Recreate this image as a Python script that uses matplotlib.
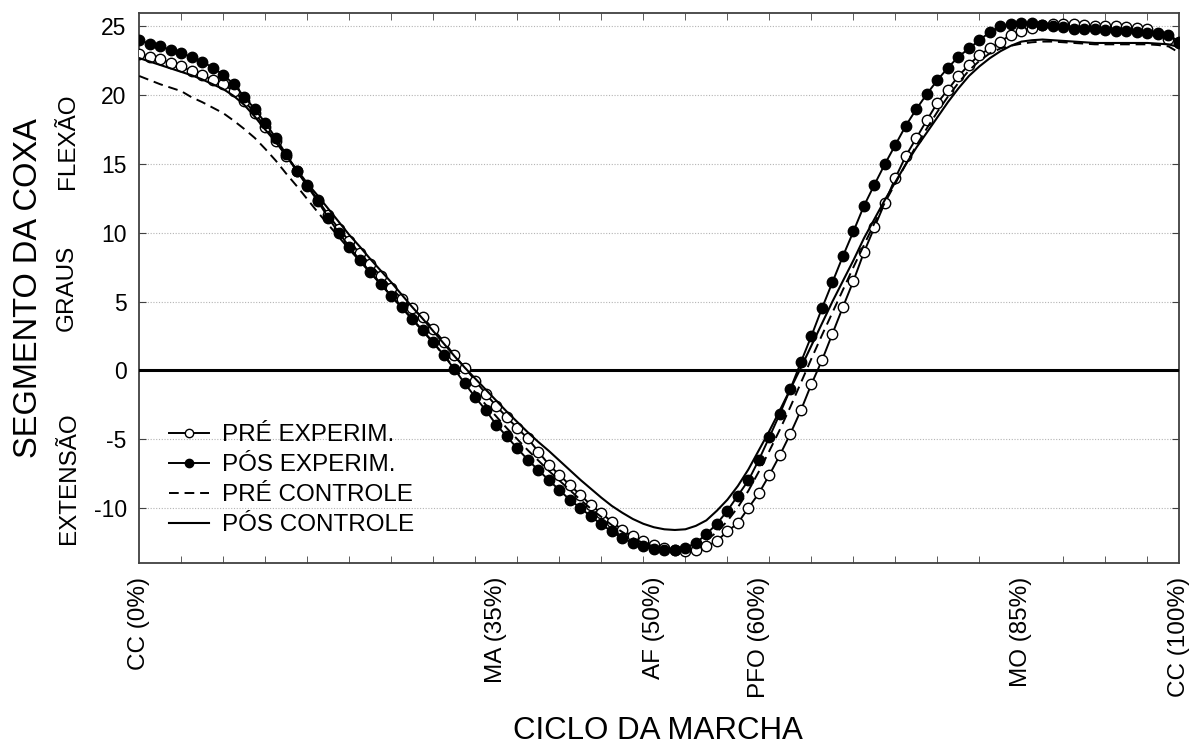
import numpy as np
import matplotlib
matplotlib.use('Agg')
import matplotlib.pyplot as plt
from matplotlib.ticker import FixedLocator

# ângulo do segmento da coxa (graus) ao longo do ciclo da marcha, 100 pontos
pre_exp = [23.0, 22.8, 22.6, 22.35, 22.1, 21.75, 21.5, 21.1, 20.8, 20.3,
           19.6, 18.7, 17.7, 16.7, 15.6, 14.5, 13.5, 12.4, 11.3, 10.3,
           9.4, 8.5, 7.7, 6.85, 6.0, 5.2, 4.5, 3.85, 3.0, 2.1,
           1.1, 0.2, -0.75, -1.7, -2.6, -3.4, -4.2, -4.95, -5.9, -6.85,
           -7.6, -8.33, -9.05, -9.78, -10.38, -11.0, -11.6, -12.07, -12.4, -12.72,
           -12.92, -13.04, -13.15, -13.04, -12.8, -12.4, -11.7, -11.1, -10.0, -8.93,
           -7.6, -6.16, -4.6, -2.9, -1.0, 0.72, 2.66, 4.6, 6.5, 8.58,
           10.4, 12.2, 14.0, 15.6, 16.9, 18.2, 19.45, 20.4, 21.4, 22.2,
           22.95, 23.4, 23.9, 24.4, 24.7, 24.9, 25.1, 25.2, 25.2, 25.15,
           25.1, 25.05, 25.0, 25.0, 24.95, 24.9, 24.8, 24.5, 24.1, 23.8]

pos_exp = [24.0, 23.75, 23.55, 23.3, 23.1, 22.75, 22.45, 22.0, 21.5, 20.8,
           19.9, 19.0, 18.0, 16.9, 15.7, 14.5, 13.4, 12.3, 11.1, 10.0,
           9.0, 8.0, 7.15, 6.3, 5.4, 4.6, 3.75, 2.9, 2.05, 1.1,
           0.1, -0.95, -1.95, -2.9, -3.95, -4.8, -5.67, -6.5, -7.25, -7.97,
           -8.7, -9.4, -10.0, -10.6, -11.2, -11.7, -12.2, -12.55, -12.8, -12.97,
           -13.04, -13.04, -12.9, -12.56, -11.9, -11.15, -10.2, -9.1, -8.0, -6.5,
           -4.85, -3.15, -1.35, 0.6, 2.5, 4.5, 6.4, 8.3, 10.1, 11.95,
           13.5, 15.0, 16.4, 17.8, 19.0, 20.1, 21.1, 22.0, 22.8, 23.4,
           24.0, 24.6, 25.0, 25.2, 25.25, 25.25, 25.1, 25.05, 24.95, 24.85,
           24.8, 24.8, 24.75, 24.7, 24.65, 24.6, 24.55, 24.45, 24.4, 23.9]

pre_ctrl = [21.4, 21.1, 20.8, 20.55, 20.3, 19.85, 19.5, 19.1, 18.7, 18.15,
            17.55, 16.9, 16.1, 15.25, 14.3, 13.4, 12.45, 11.5, 10.6, 9.7,
            8.8, 7.95, 7.1, 6.25, 5.4, 4.55, 3.7, 2.85, 2.0, 1.1,
            0.2, -0.7, -1.6, -2.5, -3.35, -4.2, -5.0, -5.8, -6.55, -7.3,
            -8.0, -8.7, -9.4, -10.05, -10.65, -11.25, -11.75, -12.2, -12.55, -12.8,
            -12.95, -13.0, -12.95, -12.75, -12.35, -11.75, -10.95, -9.95, -8.75, -7.35,
            -5.85, -4.3, -2.65, -0.9, 0.85, 2.55, 4.2, 5.85, 7.5, 9.1,
            10.7, 12.2, 13.6, 15.0, 16.35, 17.6, 18.8, 19.9, 20.9, 21.8,
            22.5, 23.05, 23.4, 23.6, 23.75, 23.85, 23.9, 23.9, 23.85, 23.8,
            23.75, 23.7, 23.7, 23.7, 23.7, 23.7, 23.7, 23.65, 23.55, 23.1]

pos_ctrl = [22.7, 22.45, 22.2, 21.95, 21.7, 21.45, 21.15, 20.8, 20.45, 19.95,
            19.3, 18.45, 17.5, 16.6, 15.6, 14.6, 13.6, 12.7, 11.75, 10.8,
            9.85, 9.0, 8.1, 7.25, 6.4, 5.5, 4.6, 3.75, 2.85, 1.95,
            1.05, 0.2, -0.6, -1.4, -2.2, -3.0, -3.75, -4.5, -5.2, -5.85,
            -6.55, -7.25, -7.95, -8.6, -9.25, -9.85, -10.35, -10.8, -11.15, -11.4,
            -11.55, -11.6, -11.55, -11.3, -10.9, -10.2, -9.4, -8.4, -7.2, -5.8,
            -4.4, -2.9, -1.35, 0.2, 1.8, 3.4, 5.0, 6.5, 8.0, 9.6,
            11.0, 12.4, 13.7, 15.0, 16.2, 17.3, 18.4, 19.5, 20.5, 21.4,
            22.1, 22.7, 23.2, 23.6, 23.9, 24.0, 24.05, 24.0, 23.95, 23.9,
            23.85, 23.8, 23.8, 23.8, 23.8, 23.8, 23.8, 23.75, 23.7, 23.5]

fases = ['CC (0%)', 'MA (35%)', 'AF (50%)', 'PFO (60%)', 'MO (85%)', 'CC (100%)']
fases_pos = [1, 35, 50, 60, 85, 100]
y_ticks = [-10, -5, 0, 5, 10, 15, 20, 25]

plt.rcParams['font.family'] = ['Liberation Sans', 'DejaVu Sans']
plt.rcParams['axes.unicode_minus'] = False

W, H = 1189, 744
fig = plt.figure(figsize=(W / 100, H / 100), dpi=100)
ax = fig.add_axes([139.2 / W, 1 - 563 / H, (1179 - 139.2) / W, (563 - 12.7) / H])

x = np.arange(1, len(pre_exp) + 1)

ax.plot(x, pre_exp, color='k', lw=1.4, marker='o', ms=7.5, mfc='white',
        mec='k', mew=1.0, label='PRÉ EXPERIM.', zorder=4)
ax.plot(x, pos_exp, color='k', lw=1.4, marker='o', ms=7.5, mfc='k',
        mec='k', mew=1.0, label='PÓS EXPERIM.', zorder=5)
ax.plot(x, pre_ctrl, color='k', lw=1.4, dashes=(5, 3), label='PRÉ CONTROLE', zorder=4)
ax.plot(x, pos_ctrl, color='k', lw=1.5, label='PÓS CONTROLE', zorder=4)

ax.axhline(0, color='k', lw=2.2, zorder=3)

ax.set_xlim(1, 100)
ax.set_ylim(-14, 26)

ax.set_yticks(y_ticks)
ax.yaxis.grid(True, linestyle=(0, (1, 1.5)), color='#b4b4b4', lw=0.8)
ax.set_axisbelow(True)
ax.tick_params(axis='y', which='major', direction='in', length=5, left=True,
               right=True, labelsize=16.5, pad=9, color='#404040')

ax.set_xticks(fases_pos)
ax.set_xticklabels(fases, rotation=90)
ax.tick_params(axis='x', which='major', length=0, labelsize=17.5, pad=10)
ax.xaxis.set_minor_locator(FixedLocator(np.arange(5, 100, 4)))
ax.tick_params(axis='x', which='minor', direction='in', length=5, top=True,
               bottom=True, color='#404040')

for s in ax.spines.values():
    s.set_color('#404040')
    s.set_linewidth(1.3)

fig.text(37 / W, 1 - 288 / H, 'SEGMENTO DA COXA', rotation=90, rotation_mode='anchor',
         ha='center', va='baseline', fontsize=23.5)
fig.text(72.5 / W, 1 - 287.5 / H, 'GRAUS', rotation=90, rotation_mode='anchor',
         ha='center', va='baseline', fontsize=17.5)
fig.text(74 / W, 1 - 141.5 / H, 'FLEXÃO', rotation=90, rotation_mode='anchor',
         ha='center', va='baseline', fontsize=17.5)
fig.text(75 / W, 1 - 478 / H, 'EXTENSÃO', rotation=90, rotation_mode='anchor',
         ha='center', va='baseline', fontsize=17.5)
fig.text(658 / W, 1 - 739 / H, 'CICLO DA MARCHA', ha='center', va='baseline', fontsize=22.5)

ax.legend(loc='upper left', bbox_to_anchor=(169 / W, 1 - 424 / H),
          bbox_transform=fig.transFigure, frameon=False, fontsize=17.5,
          handlelength=1.65, handletextpad=0.55, labelspacing=0.33,
          borderpad=0, borderaxespad=0, numpoints=1, markerscale=0.8)

fig.savefig('out.png', dpi=100)
